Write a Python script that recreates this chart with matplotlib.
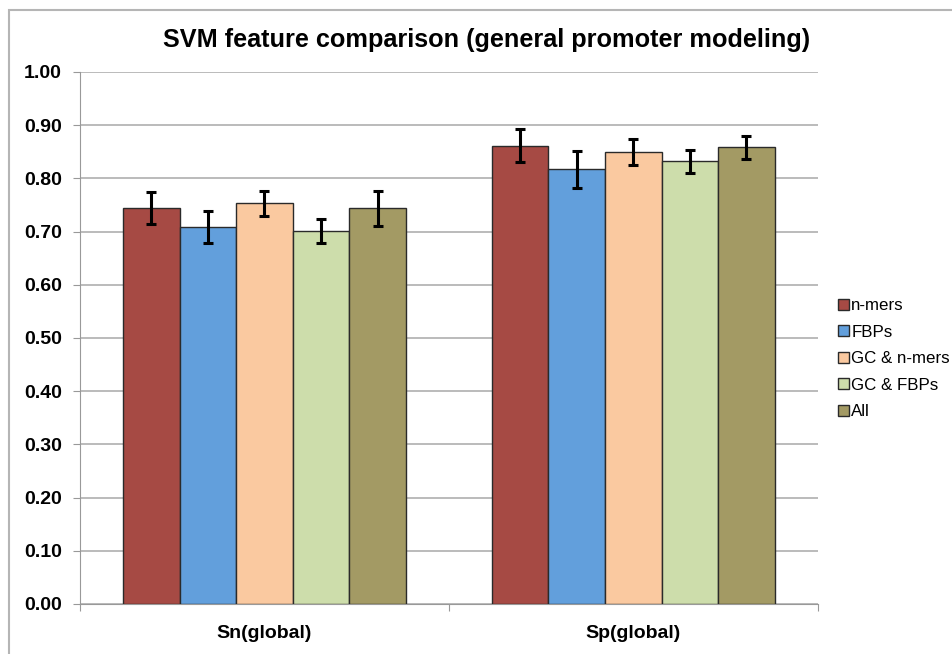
import numpy as np
import matplotlib.pyplot as plt
from matplotlib.patches import Rectangle

categories = ['Sn(global)', 'Sp(global)']
series = ['n-mers', 'FBPs', 'GC & n-mers', 'GC & FBPs', 'All']
values = {
    'n-mers': [0.744, 0.861],
    'FBPs': [0.709, 0.817],
    'GC & n-mers': [0.753, 0.850],
    'GC & FBPs': [0.701, 0.832],
    'All': [0.744, 0.858],
}
errors = {
    'n-mers': [0.030, 0.031],
    'FBPs': [0.030, 0.035],
    'GC & n-mers': [0.024, 0.024],
    'GC & FBPs': [0.022, 0.022],
    'All': [0.033, 0.022],
}
colors = ['#A64A44', '#629FDC', '#FAC9A0', '#CDDDAB', '#A39A64']

plt.rcParams['font.family'] = ['Liberation Sans', 'DejaVu Sans']

fig = plt.figure(figsize=(9.52, 6.54), dpi=100)
ax = fig.add_axes([0.084, 0.0765, 0.775, 0.8135])

# outer chart border (only top and left edges show in the picture)
fig.patches.append(Rectangle((0.0095, -0.1), 1.2, 0.1 + 0.985, transform=fig.transFigure,
                             fill=False, edgecolor='#b5b5b5', linewidth=1.5))

x = np.arange(len(categories))
n = len(series)
bw = 0.767 / n
for i, (name, color) in enumerate(zip(series, colors)):
    pos = x - 0.767 / 2 + bw * (i + 0.5)
    ax.bar(pos, values[name], width=bw, color=color, edgecolor='#2a2a2a', linewidth=1.0,
           label=name, zorder=3)
    ax.errorbar(pos, values[name], yerr=errors[name], fmt='none', ecolor='black',
                elinewidth=2.2, capsize=3.5, capthick=2.2, zorder=4)

ax.set_xlim(-0.5, 1.5)
ax.set_ylim(0, 1.0)
ax.set_yticks(np.arange(0, 1.01, 0.1))
ax.set_yticklabels([f'{v:.2f}' for v in np.arange(0, 1.01, 0.1)], fontsize=14, fontweight='bold')
ax.set_xticks([-0.5, 0.5, 1.5])
ax.set_xticklabels([])
ax.set_xticks(x, minor=True)
ax.set_xticklabels(categories, minor=True, fontsize=14, fontweight='bold')
ax.tick_params(axis='x', which='minor', length=0, pad=15)
ax.tick_params(axis='x', which='major', length=5, color='#999999')
ax.tick_params(axis='y', length=5, color='#999999', pad=8)

ax.grid(axis='y', color='#b5b5b5', linewidth=1.3, zorder=0)
for s in ['top', 'right']:
    ax.spines[s].set_visible(False)
ax.spines['left'].set_color('#999999')
ax.spines['bottom'].set_color('#999999')

fig.text(0.511, 0.939, 'SVM feature comparison (general promoter modeling)', fontsize=18.2,
         fontweight='bold', ha='center', va='center')

ax.legend(loc='center left', bbox_to_anchor=(1.011, 0.461), frameon=False, fontsize=12.2,
          handlelength=0.65, handleheight=0.65, handletextpad=0.15, labelspacing=0.68,
          borderaxespad=0.3)

fig.savefig('out.png', dpi=100)
